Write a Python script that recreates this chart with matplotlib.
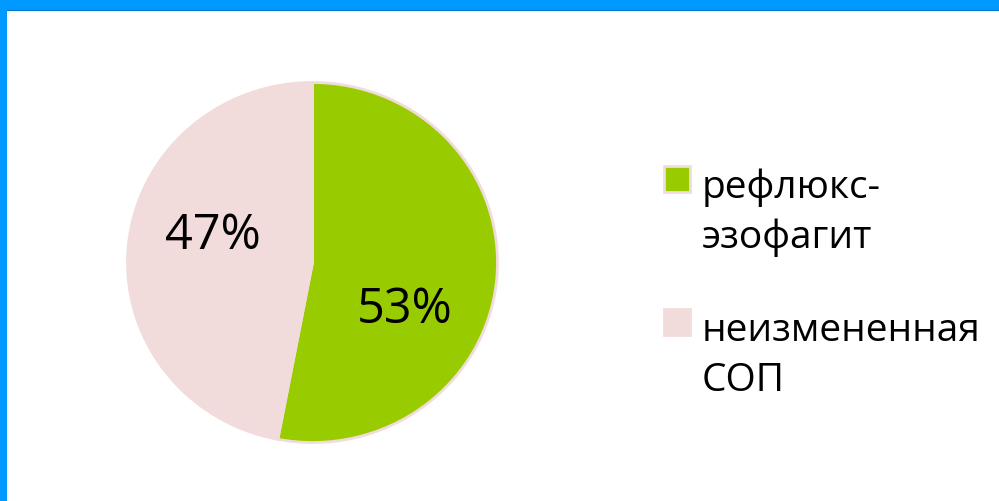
import matplotlib
matplotlib.use("Agg")
import matplotlib.pyplot as plt
from matplotlib.patches import Rectangle

plt.rcParams['font.family'] = ['Open Sans', 'DejaVu Sans']

labels = ["рефлюкс-\nэзофагит", "неизмененная\nСОП"]
values = [53, 47]
colors = ["#99CC00", "#F2DCDB"]
pct_pos = [(0.50, -0.265), (-0.54, 0.145)]  # label spots inside the wedges (axes units)

fig = plt.figure(figsize=(9.99, 5.01), dpi=100)

# pie axes: centre ~ (312, 262) px, slightly wider than tall like the source
W, H = 999, 501
cx, cy, rx, ry = 312.5, 262.5, 185, 180
ax = fig.add_axes([(cx - rx) / W, (H - cy - ry) / H, 2 * rx / W, 2 * ry / H])
ax.pie(values, colors=colors, startangle=90, counterclock=False, radius=1,
       wedgeprops=dict(edgecolor="#F2DCDB", linewidth=2))
ax.set_xlim(-1.0, 1.0)
ax.set_ylim(-1.0, 1.0)
ax.set_aspect('auto')
for v, (x, y) in zip(values, pct_pos):
    ax.text(x, y, f"{v}%", ha='center', va='center', fontsize=35, color='black')

# overlay in pixel coords for legend and frame
ov2 = fig.add_axes([0, 0, 1, 1], zorder=5)
ov2.set_xlim(0, W)
ov2.set_ylim(H, 0)
ov2.axis('off')
ov2.patch.set_alpha(0)

# blue frame on top and left
ov2.add_patch(Rectangle((0, 0), W, 9.5, color="#0099FF", lw=0))
ov2.plot([7, W], [9.5, 9.5], color="#0077CC", lw=0.8)
ov2.add_patch(Rectangle((0, 0), 7, H, color="#0099FF", lw=0))

# legend
leg_top = [165, 308]
for lab, col, top in zip(labels, colors, leg_top):
    ov2.add_patch(Rectangle((664, top + 1), 26, 26, facecolor=col,
                            edgecolor="#F2DCDB", lw=2))
    lines = lab.split("\n")
    for i, ln in enumerate(lines):
        ov2.text(702, top + 33 + i * 50, ln, fontsize=28, va='baseline',
                 ha='left', color='black')

fig.savefig("out.png", dpi=100)
